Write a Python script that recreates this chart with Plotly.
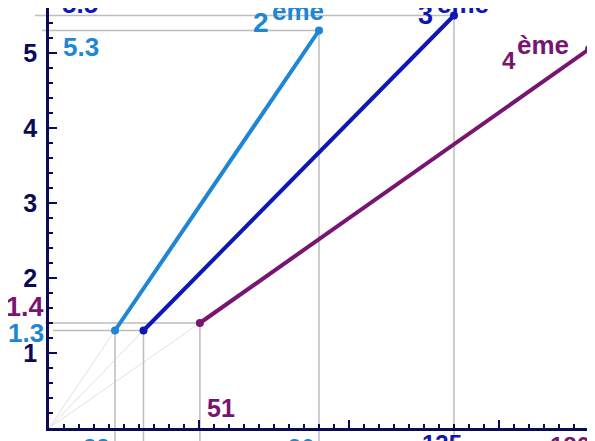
import plotly.graph_objs as go

# gear lines: start / end points
gears = ['2', '3', '4']
suffixes = ['eme', 'ème', 'ème']
x_start = [22, 31.5, 50.3]
y_start = [1.3, 1.3, 1.4]
x_end = [90, 135, 180]
y_end = [5.3, 5.5, 5.05]
start_labels = ['1.3', '', '1.4']
end_labels = ['5.3', '5.5', '']
x_start_labels = ['22', '', '51']
x_end_labels = ['90', '135', '180']
y_ticks = [1, 2, 3, 4, 5]

LIGHT = '#1f86d6'
DARK = '#1016b4'
PURPLE = '#781570'
NAVY = '#0b0b55'
GREY = '#bdbdbd'
FAINT = '#e2e2e2'
FONT = 'Liberation Sans'
colors = [LIGHT, DARK, PURPLE]

# the page puts the figure 8px in from the window corner
PAD = 8
W, H = 595 - PAD, 441 - PAD
X0, Y0 = 49 - PAD, 428 - PAD   # origin in figure pixels
SX, SY = 3, 75                 # pixels per unit
x_range = [-X0 / SX, (W - X0) / SX]
y_range = [-(H - Y0) / SY, Y0 / SY]


def px(p):
    # reference pixel column -> data x
    return (p - 49) / SX


def py(p):
    # reference pixel row -> data y
    return (428 - p) / SY


fig = go.Figure()

# faint rays from the origin to the start points
for xs, ys in zip(x_start, y_start):
    fig.add_trace(go.Scatter(x=[0, xs], y=[0, ys], mode='lines',
                             line=dict(color=FAINT, width=1), hoverinfo='skip'))

# vertical guides down to the bottom edge
for xs, ys in zip(x_start + x_end, y_start + y_end):
    fig.add_trace(go.Scatter(x=[xs, xs], y=[ys, y_range[0]], mode='lines',
                             line=dict(color=GREY, width=1.5), hoverinfo='skip'))

# horizontal guides to the left
h_left = {5.5: px(35), 5.3: px(42), 1.4: px(45), 1.3: px(53)}
h_pts = {}
for xs, ys in zip(x_start + x_end, y_start + y_end):
    h_pts[ys] = max(h_pts.get(ys, xs), xs)
for ys, xs in h_pts.items():
    if ys in h_left:
        fig.add_trace(go.Scatter(x=[h_left[ys], xs], y=[ys, ys], mode='lines',
                                 line=dict(color=GREY, width=1.5), hoverinfo='skip'))

# gear lines
for i in range(len(gears)):
    fig.add_trace(go.Scatter(x=[x_start[i], x_end[i]], y=[y_start[i], y_end[i]],
                             mode='lines+markers',
                             line=dict(color=colors[i], width=4),
                             marker=dict(color=colors[i], size=8)))

# empty trace so the axis subplot exists
fig.add_trace(go.Scatter(x=[], y=[], xaxis='x2', yaxis='y2'))


def label(text, x, y, color, size=22):
    # annotations anchored off the axis range get hidden, so clamp
    # the anchor to the visible edge and shift the text instead
    top, bottom = PAD, 441
    anchor = min(max(y, top), bottom)
    fig.add_annotation(x=px(x), y=py(anchor), yshift=anchor - y,
                       xref='x', yref='y', text=text, showarrow=False,
                       xanchor='center', yanchor='middle',
                       font=dict(family=FONT, size=size, color=color, weight='bold'))


# gear names (superscript drawn at full size)
name_pos = [(261, 22, 28, 298, 11), (425, 15, 27, 463, 4), (509, 60, 24, 543, 45)]
for i, (dx, dy, dsize, sx, sy) in enumerate(name_pos):
    label(gears[i], dx, dy, colors[i], size=dsize)
    label(suffixes[i], sx, sy, colors[i], size=26)

# value labels
label(end_labels[1], 80, 4, DARK, 26)
label(end_labels[0], 81, 47, LIGHT, 26)
label(start_labels[2], 25, 307, PURPLE, 27)
label(start_labels[0], 26, 333, LIGHT, 26)
label(x_start_labels[2], 221, 408, PURPLE, 25)
label(x_start_labels[0], 96, 447, LIGHT, 24)
label(x_end_labels[0], 301, 447, LIGHT, 24)
label(x_end_labels[1], 442, 443, DARK, 24)
label(x_end_labels[2], 570, 445, PURPLE, 24)

fig.update_layout(
    width=W, height=H,
    margin=dict(l=0, r=0, t=0, b=0),
    paper_bgcolor='white', plot_bgcolor='rgba(0,0,0,0)',
    showlegend=False,
    xaxis=dict(domain=[0, 1], range=x_range, visible=False),
    yaxis=dict(domain=[0, 1], range=y_range, visible=False),
    xaxis2=dict(domain=[X0 / W, 1], range=[0, x_range[1]], anchor='y2',
                showline=True, linecolor=NAVY, linewidth=2.5,
                ticks='inside', ticklen=8, tickwidth=2, tickcolor=NAVY,
                tick0=0, dtick=50, showticklabels=False,
                minor=dict(ticks='inside', ticklen=4, tickwidth=1.5, tickcolor=NAVY, dtick=5, tick0=0),
                showgrid=False, zeroline=False),
    yaxis2=dict(domain=[(H - Y0) / H, 1], range=[0, y_range[1]], anchor='x2',
                showline=True, linecolor=NAVY, linewidth=2.5,
                ticks='inside', ticklen=8, tickwidth=2, tickcolor=NAVY,
                tickvals=y_ticks, ticklabelstandoff=4,
                tickfont=dict(family=FONT, size=25, color=NAVY, weight='bold'),
                minor=dict(ticks='inside', ticklen=4, tickwidth=1.5, tickcolor=NAVY, dtick=0.2, tick0=0),
                showgrid=False, zeroline=False),
)

fig.write_html("out.html")
